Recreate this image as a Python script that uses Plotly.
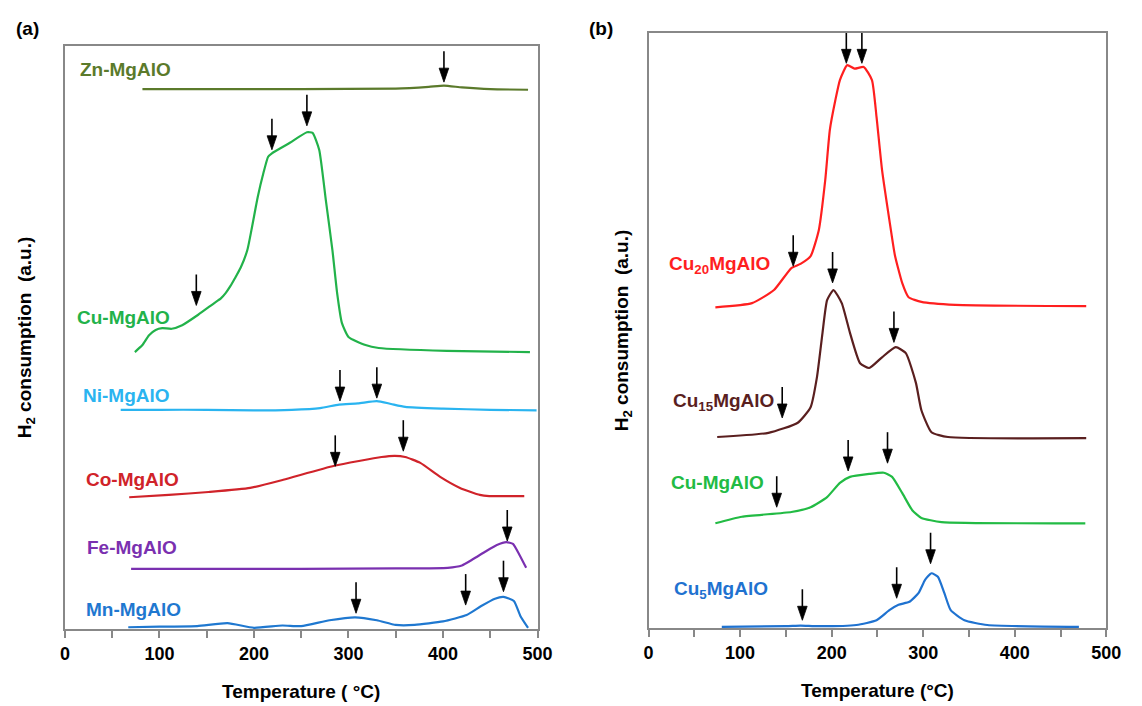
import plotly.graph_objects as go

# ---------------- panel (a): M-MgAlO catalysts ----------------
zn_t = [82, 150, 250, 350, 385, 401, 420, 450, 490]
zn_v = [92.6, 92.6, 92.6, 92.7, 93.0, 93.2, 92.9, 92.6, 92.5]

cu_t = [74, 82, 89, 96, 103, 113, 124, 141, 158, 165, 170, 175, 180, 186, 193, 198,
        204, 210, 215, 219, 238, 256, 262, 269, 276, 283, 288, 293, 300, 318, 332,
        404, 492]
cu_v = [47.5, 48.7, 50.4, 51.3, 51.6, 51.5, 52.1, 53.9, 55.9, 56.7, 57.6, 58.8, 60.2,
        62.0, 65.0, 69.0, 74.1, 78.2, 81.0, 81.6, 83.4, 85.2, 85.1, 82.2, 73.6, 65.0,
        57.6, 52.5, 50.1, 48.7, 48.2, 47.7, 47.5]

ni_t = [59, 100, 150, 200, 240, 270, 290, 310, 330, 345, 360, 400, 450, 499]
ni_v = [37.6, 37.6, 37.6, 37.5, 37.6, 37.9, 38.5, 38.7, 39.1, 38.6, 38.1, 37.8, 37.6, 37.5]

co_t = [68, 110, 152, 196, 231, 285, 335, 349, 360, 376, 397, 418, 439, 449, 486]
co_v = [22.6, 23.0, 23.5, 24.2, 25.6, 28.0, 29.5, 29.7, 29.5, 28.5, 26.1, 24.2, 23.0, 22.8, 22.8]

fe_t = [70, 150, 250, 350, 405, 420, 432, 445, 457, 467, 474, 480, 488]
fe_v = [10.3, 10.3, 10.3, 10.4, 10.5, 10.9, 12.0, 13.3, 14.4, 14.9, 14.6, 13.0, 10.5]

mn_t = [67, 100, 140, 172, 200, 230, 250, 280, 307, 330, 350, 370, 400, 425, 440,
        455, 464, 475, 482, 490]
mn_v = [0.3, 0.4, 0.5, 1.0, 0.2, 0.6, 0.5, 1.5, 2.0, 1.5, 0.7, 0.7, 1.3, 2.4, 3.9,
        5.2, 5.5, 4.8, 2.2, 0.2]

# arrow marks for panel (a): temperature and tip height
arrows_a_t = [401, 139, 219, 256, 291, 330, 286, 358, 468, 308, 424, 464]
arrows_a_v = [93.8, 55.5, 82.2, 86.3, 39.1, 39.6, 27.9, 30.5, 15.1, 2.7, 4.1, 6.4]

# ---------------- panel (b): CuxMgAlO catalysts ----------------
cu20_t = [73, 113, 137, 156, 166, 177, 186, 193, 198, 204, 209, 217, 225, 235, 244,
          249, 255, 263, 269, 277, 284, 298, 335, 478]
cu20_v = [53.9, 54.6, 56.8, 60.5, 61.2, 62.5, 66.9, 75.3, 83.7, 88.7, 92.1, 94.6,
          94.0, 94.3, 92.1, 85.9, 77.0, 68.6, 62.7, 58.0, 55.6, 54.8, 54.3, 54.1]

cu15_t = [75, 131, 163, 177, 184, 190, 195, 202, 211, 220, 231, 241, 255, 270, 281,
          292, 298, 309, 327, 478]
cu15_v = [32.1, 32.8, 34.5, 37.1, 42.2, 49.6, 55.1, 56.8, 54.6, 49.6, 44.5, 43.7,
          45.5, 47.2, 46.2, 41.2, 36.6, 32.9, 32.1, 31.9]

cub_t = [73, 102, 156, 177, 195, 209, 220, 241, 257, 266, 277, 288, 298, 320, 477]
cub_v = [17.6, 18.7, 19.5, 20.3, 22.0, 24.4, 25.4, 25.9, 26.1, 25.4, 22.7, 19.8,
         18.5, 17.8, 17.6]

cu5_t = [80, 150, 166, 185, 227, 249, 263, 273, 285, 295, 302, 309, 316, 323, 330,
         345, 370, 470]
cu5_v = [0.2, 0.3, 0.4, 0.3, 0.5, 1.3, 3.0, 3.9, 4.4, 5.9, 8.1, 9.2, 8.6, 5.9, 3.0,
         1.3, 0.5, 0.2]

arrows_b_t = [216, 233, 158, 201, 268, 146, 218, 261, 140, 168, 271, 308]
arrows_b_v = [94.9, 94.9, 60.8, 58.0, 48.0, 35.3, 26.4, 27.7, 20.3, 1.3, 5.0, 10.8]

FONT = "Arial, Liberation Sans, sans-serif"
AXIS_GREY = "#888888"

fig = go.Figure()

panel_a = [
    (zn_t, zn_v, "#5b7a2b"),
    (cu_t, cu_v, "#22b24a"),
    (ni_t, ni_v, "#2ab4f0"),
    (co_t, co_v, "#d0232a"),
    (fe_t, fe_v, "#7a30b0"),
    (mn_t, mn_v, "#1f78d0"),
]
for t, v, c in panel_a:
    fig.add_trace(go.Scatter(x=t, y=v, mode="lines",
                             line=dict(color=c, width=2.2, shape="spline", smoothing=0.5),
                             xaxis="x", yaxis="y", showlegend=False, hoverinfo="skip"))

panel_b = [
    (cu20_t, cu20_v, "#ff1f1f"),
    (cu15_t, cu15_v, "#5a1f1f"),
    (cub_t, cub_v, "#22bb44"),
    (cu5_t, cu5_v, "#1f72d0"),
]
for t, v, c in panel_b:
    fig.add_trace(go.Scatter(x=t, y=v, mode="lines",
                             line=dict(color=c, width=2.2, shape="spline", smoothing=0.5),
                             xaxis="x2", yaxis="y2", showlegend=False, hoverinfo="skip"))

# downward arrows: shaft + filled head, sized in pixels, anchored at the tip
shapes = []


def arrow(xr, yr, t, v):
    shaft = dict(type="line", xref=xr, yref=yr, xsizemode="pixel", ysizemode="pixel",
                 xanchor=t, yanchor=v, x0=0, x1=0, y0=10, y1=31,
                 line=dict(color="black", width=1.6))
    head = dict(type="path", xref=xr, yref=yr, xsizemode="pixel", ysizemode="pixel",
                xanchor=t, yanchor=v, path="M-4.8,14 L4.8,14 L0,0 Z",
                fillcolor="black", line=dict(color="black", width=0.8))
    return [shaft, head]


for t, v in zip(arrows_a_t, arrows_a_v):
    shapes += arrow("x", "y", t, v)
for t, v in zip(arrows_b_t, arrows_b_v):
    shapes += arrow("x2", "y2", t, v)

annotations = []
BOLD = dict(family=FONT, size=19, weight="bold")

labels_a = [
    ("Zn-MgAlO", 14.0, 95.9, "#5b7a2b"),
    ("Cu-MgAlO", 11.0, 53.5, "#22b24a"),
    ("Ni-MgAlO", 17.2, 40.1, "#2ab4f0"),
    ("Co-MgAlO", 20.3, 25.7, "#d0232a"),
    ("Fe-MgAlO", 21.4, 13.9, "#7a30b0"),
    ("Mn-MgAlO", 20.3, 3.4, "#1f78d0"),
]
for txt, x, y, c in labels_a:
    annotations.append(dict(x=x, y=y, xref="x", yref="y", text=txt, showarrow=False,
                            xanchor="left", yanchor="middle", font=dict(BOLD, color=c)))

labels_b = [
    ("Cu<sub>20</sub>MgAlO", 20.0, 61.0, "#ff1f1f"),
    ("Cu<sub>15</sub>MgAlO", 24.0, 38.0, "#5a1f1f"),
    ("Cu-MgAlO", 22.0, 24.4, "#22bb44"),
    ("Cu<sub>5</sub>MgAlO", 25.2, 6.4, "#1f72d0"),
]
for txt, x, y, c in labels_b:
    annotations.append(dict(x=x, y=y, xref="x2", yref="y2", text=txt, showarrow=False,
                            xanchor="left", yanchor="middle", font=dict(BOLD, color=c)))

for txt, px in [("(a)", 23), ("(b)", 607)]:
    annotations.append(dict(x=px / 1142, y=1 - 28 / 706, xref="paper", yref="paper", text=txt,
                            showarrow=False, xanchor="center", yanchor="middle",
                            font=dict(BOLD, color="black")))

major_ticks = list(range(0, 501, 100))

xaxis_common = dict(range=[0, 500], tickvals=major_ticks, ticks="outside", ticklen=7,
                    tickwidth=1.5, tickcolor=AXIS_GREY, showline=True, linecolor=AXIS_GREY, linewidth=2,
                    mirror=True, showgrid=False, zeroline=False,
                    minor=dict(dtick=50, tick0=0, ticks="outside", ticklen=7, tickwidth=1.5,
                               tickcolor=AXIS_GREY, showgrid=False),
                    tickfont=dict(family=FONT, size=18, color="black", weight="bold"))
yaxis_common = dict(range=[0, 100], showticklabels=False, ticks="", showline=True, linecolor=AXIS_GREY,
                    linewidth=2, mirror=True, showgrid=False, zeroline=False)

W, H = 1142, 706
fig.update_layout(
    width=W, height=H, margin=dict(l=0, r=0, t=0, b=0),
    paper_bgcolor="white", plot_bgcolor="white", showlegend=False,
    xaxis=dict(domain=[61 / W, 542 / W], anchor="y",
               title=dict(text="Temperature ( °C)", standoff=22, font=dict(BOLD, color="black")),
               **xaxis_common),
    yaxis=dict(domain=[(H - 629) / H, (H - 46) / H], anchor="x",
               title=dict(text="H<sub>2</sub> consumption  (a.u.)", standoff=26,
                          font=dict(BOLD, color="black")), **yaxis_common),
    xaxis2=dict(domain=[655 / W, 1121 / W], anchor="y2",
                title=dict(text="Temperature (°C)", standoff=22, font=dict(BOLD, color="black")),
                **xaxis_common),
    yaxis2=dict(domain=[(H - 628) / H, (H - 33) / H], anchor="x2",
                title=dict(text="H<sub>2</sub> consumption  (a.u.)", standoff=13,
                           font=dict(BOLD, color="black")), **yaxis_common),
    annotations=annotations,
    shapes=shapes,
)

fig.write_html("out.html")
